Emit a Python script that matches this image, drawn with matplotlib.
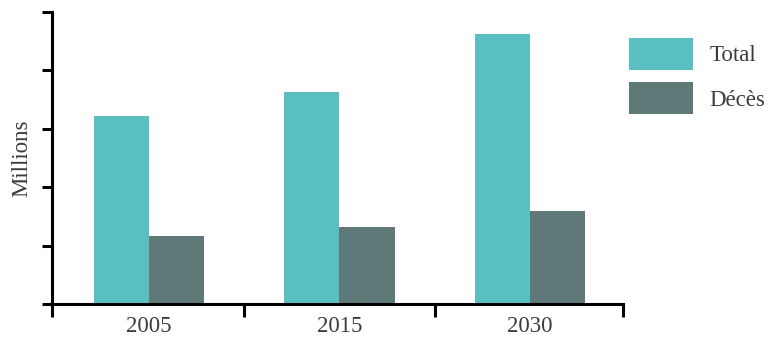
import matplotlib.pyplot as plt
import numpy as np

years = ["2005", "2015", "2030"]
total = [3.22, 3.63, 4.62]
deces = [1.16, 1.32, 1.59]
series_labels = ["Total", "Décès"]

teal = "#5abfc0"
slate = "#5e7977"
txt = "#3c3c3c"

plt.rcParams['font.family'] = ['Liberation Serif', 'DejaVu Serif']

fig = plt.figure(figsize=(7.73, 3.52), dpi=100)
ax = fig.add_axes([52/773, 48/352, 571/773, 292/352])

x = np.arange(len(years))
w = 0.29
ax.bar(x - w/2, total, w, color=teal, label=series_labels[0])
ax.bar(x + w/2, deces, w, color=slate, label=series_labels[1])

x0, x1 = -0.51, 2.49
ax.set_xlim(x0, x1)
ax.set_ylim(0, 5)

for s in ["top", "right"]:
    ax.spines[s].set_visible(False)
for s in ["left", "bottom"]:
    ax.spines[s].set_linewidth(2.2)
    ax.spines[s].set_color("black")

# y ticks without labels
ax.set_yticks(np.arange(0, 6, 1))
ax.set_yticklabels([])
ax.tick_params(axis="y", direction="out", length=7.5, width=2.2, color="black")

# x: labels at centers, tick marks at category edges
ax.set_xticks(x)
ax.set_xticklabels(years, fontsize=16.5, color=txt)
ax.tick_params(axis="x", which="major", length=0, pad=9)
ax.set_xticks([x0, 0.5, 1.5, x1], minor=True)
ax.tick_params(axis="x", which="minor", direction="out", length=9, width=2.2, color="black")

ax.set_ylabel("Millions", fontsize=16.5, color=txt, labelpad=3)

leg = ax.legend(loc="upper left", bbox_to_anchor=(629/773, 1 - 38/352),
                bbox_transform=fig.transFigure, frameon=False, fontsize=16.5,
                handlelength=2.8, handleheight=1.75, handletextpad=0.7,
                labelspacing=0.55, borderpad=0, borderaxespad=0)
for t in leg.get_texts():
    t.set_color(txt)

fig.savefig("out.png", dpi=100)
